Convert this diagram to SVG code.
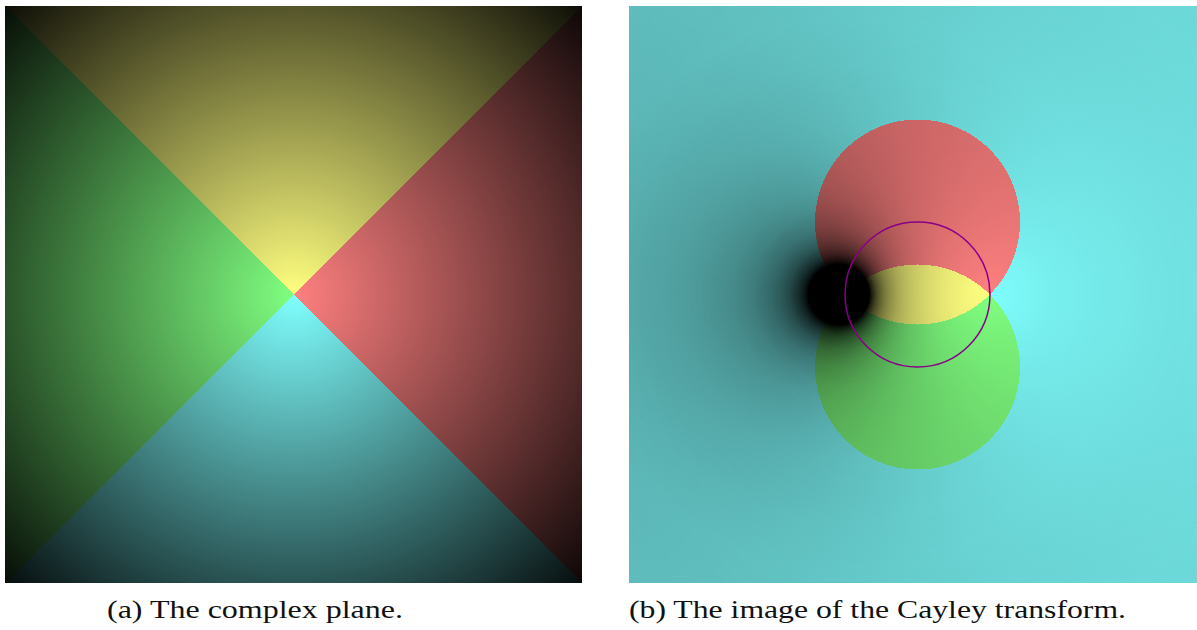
<svg xmlns="http://www.w3.org/2000/svg" width="1197" height="630" viewBox="0 0 1197 630">
  <style>
    .cap { font-family: "Liberation Serif", "DejaVu Serif", serif; font-size: 26px; fill: #111; }
    .tri { shape-rendering: crispEdges; }
    .disc { shape-rendering: crispEdges; }
  </style>
  <defs>
    <radialGradient id="gL" gradientUnits="userSpaceOnUse" cx="293.5" cy="294.5" r="430">
      <stop offset="0" stop-color="#000" stop-opacity="0"/>
      <stop offset="1" stop-color="#000" stop-opacity="1"/>
    </radialGradient>
    <radialGradient id="gB" gradientUnits="userSpaceOnUse" cx="990" cy="294.5" r="480">
      <stop offset="0" stop-color="rgb(0,0,0)"/>
      <stop offset="1" stop-color="rgb(255,0,0)"/>
    </radialGradient>
    <radialGradient id="gC" gradientUnits="userSpaceOnUse" cx="845" cy="294.5" r="460">
      <stop offset="0" stop-color="rgb(0,255,0)"/>
      <stop offset="0.04348" stop-color="rgb(0,255,0)"/>
      <stop offset="0.05" stop-color="rgb(0,222,0)"/>
      <stop offset="0.06" stop-color="rgb(0,185,0)"/>
      <stop offset="0.07" stop-color="rgb(0,158,0)"/>
      <stop offset="0.08" stop-color="rgb(0,139,0)"/>
      <stop offset="0.09" stop-color="rgb(0,123,0)"/>
      <stop offset="0.10" stop-color="rgb(0,111,0)"/>
      <stop offset="0.12" stop-color="rgb(0,92,0)"/>
      <stop offset="0.14" stop-color="rgb(0,79,0)"/>
      <stop offset="0.16" stop-color="rgb(0,69,0)"/>
      <stop offset="0.18" stop-color="rgb(0,62,0)"/>
      <stop offset="0.20" stop-color="rgb(0,55,0)"/>
      <stop offset="0.24" stop-color="rgb(0,46,0)"/>
      <stop offset="0.28" stop-color="rgb(0,40,0)"/>
      <stop offset="0.32" stop-color="rgb(0,35,0)"/>
      <stop offset="0.36" stop-color="rgb(0,31,0)"/>
      <stop offset="0.40" stop-color="rgb(0,28,0)"/>
      <stop offset="0.50" stop-color="rgb(0,22,0)"/>
      <stop offset="0.60" stop-color="rgb(0,18,0)"/>
      <stop offset="0.70" stop-color="rgb(0,16,0)"/>
      <stop offset="0.80" stop-color="rgb(0,14,0)"/>
      <stop offset="0.90" stop-color="rgb(0,12,0)"/>
      <stop offset="1" stop-color="rgb(0,11,0)"/>
    </radialGradient>
    <filter id="shade" filterUnits="userSpaceOnUse" x="629" y="6" width="568" height="577" color-interpolation-filters="sRGB">
      <feColorMatrix in="SourceGraphic" type="matrix" values="1 0 0 0 0  1 0 0 0 0  1 0 0 0 0  0 0 0 0 1" result="b"/>
      <feColorMatrix in="SourceGraphic" type="matrix" values="0 1 0 0 0  0 1 0 0 0  0 1 0 0 0  0 0 0 0 1" result="c"/>
      <feComposite in="b" in2="c" operator="arithmetic" k1="4.8" k2="0" k3="0" k4="0" result="p"/>
      <feColorMatrix in="p" type="matrix" values="0 0 0 0 0  0 0 0 0 0  0 0 0 0 0  1 0 0 0 0"/>
    </filter>
  </defs>

  <rect width="1197" height="630" fill="#ffffff"/>

  <g id="panel-a">
    <polygon class="tri" points="5,6 582,6 293.5,294.5" fill="rgb(255,255,128)"/>
    <polygon class="tri" points="582,6 582,583 293.5,294.5" fill="rgb(255,128,128)"/>
    <polygon class="tri" points="582,583 5,583 293.5,294.5" fill="rgb(128,255,255)"/>
    <polygon class="tri" points="5,583 5,6 293.5,294.5" fill="rgb(128,255,128)"/>
    <rect x="5" y="6" width="577" height="577" fill="url(#gL)"/>
  </g>

  <g id="panel-b">
    <rect x="629" y="6" width="568" height="577" fill="rgb(128,255,255)"/>
    <circle class="disc" cx="917.5" cy="222" r="102.5" fill="rgb(255,128,128)"/>
    <circle class="disc" cx="917.5" cy="367" r="102.5" fill="rgb(128,255,128)"/>
    <path class="disc" d="M845,294.5 A102.5,102.5 0 0 1 990,294.5 A102.5,102.5 0 0 1 845,294.5 Z" fill="rgb(255,255,128)"/>
    <g id="shading" filter="url(#shade)">
      <rect x="629" y="6" width="568" height="577" fill="url(#gB)"/>
      <rect x="629" y="6" width="568" height="577" fill="url(#gC)" style="mix-blend-mode:screen"/>
    </g>
    <circle id="unit-circle" cx="917.5" cy="294.5" r="72.5" fill="none" stroke="#880088" stroke-width="1.5"/>
  </g>

  <g id="caption-a">
    <text class="cap" x="107" y="618" textLength="296" lengthAdjust="spacingAndGlyphs">(a) The complex plane.</text>
  </g>
  <g id="caption-b">
    <text class="cap" x="629" y="618" textLength="497" lengthAdjust="spacingAndGlyphs">(b) The image of the Cayley transform.</text>
  </g>
</svg>
